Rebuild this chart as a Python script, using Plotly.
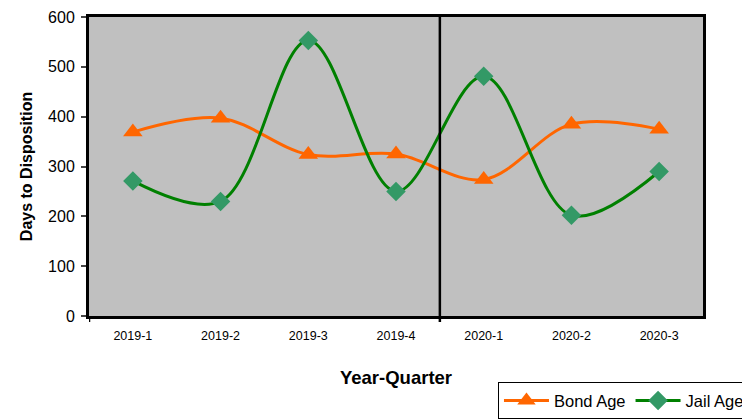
import plotly.graph_objects as go

quarters = ["2019-1", "2019-2", "2019-3", "2019-4", "2020-1", "2020-2", "2020-3"]
bond_age = [369, 397, 324, 325, 274, 385, 375]
jail_age = [271, 230, 553, 250, 481, 202, 290]
y_ticks = [0, 100, 200, 300, 400, 500, 600]

FONT = "Liberation Sans, Arial, sans-serif"

fig = go.Figure()
fig.add_trace(go.Scatter(
    x=quarters, y=bond_age, name="Bond Age", mode="lines+markers",
    line=dict(color="#FF6600", width=3, shape="spline", smoothing=1.0),
    marker=dict(symbol="triangle-up", size=17, color="#FF6600"),
))
fig.add_trace(go.Scatter(
    x=quarters, y=jail_age, name="Jail Age", mode="lines+markers",
    line=dict(color="#008000", width=3, shape="spline", smoothing=1.0),
    marker=dict(symbol="diamond", size=15, color="#339966"),
))

# divider between 2019 and 2020
fig.add_shape(type="line", xref="x", yref="paper", x0=3.5, x1=3.5, y0=-0.02, y1=1,
              line=dict(color="black", width=2.5))
fig.add_shape(type="line", xref="x", yref="paper", x0=-0.5, x1=-0.5, y0=-0.02, y1=0,
              line=dict(color="black", width=2.5))

# page body adds an 8px offset, so the figure is drawn 8px smaller
fig.update_layout(
    width=742, height=411,
    margin=dict(l=81, r=47, t=9, b=103, autoexpand=False),
    paper_bgcolor="white", plot_bgcolor="#C0C0C0",
    font=dict(family=FONT, color="black"),
    showlegend=True,
    legend=dict(orientation="h", x=1.0765, xanchor="right", y=-0.345, yanchor="bottom",
                bordercolor="black", borderwidth=1, bgcolor="white",
                font=dict(size=16.5), tracegroupgap=0, itemwidth=45),
)
fig.update_xaxes(
    type="category", range=[-0.5, 6.5],
    showline=True, linecolor="black", linewidth=3, mirror=True,
    showgrid=False, ticks="", tickfont=dict(size=12.5), ticklabelstandoff=6,
    title=dict(text="<b>Year-Quarter</b>", font=dict(size=18.5), standoff=30),
)
fig.update_yaxes(
    range=[0, 600], tickvals=y_ticks,
    showline=True, linecolor="black", linewidth=3, mirror=True,
    showgrid=False, zeroline=False, ticks="outside", ticklen=5, tickwidth=2,
    tickfont=dict(size=16), ticklabelstandoff=3, ticklabeloverflow="allow",
    title=dict(text="<b>Days to Disposition</b>", font=dict(size=16), standoff=12),
)

fig.write_html("out.html")
